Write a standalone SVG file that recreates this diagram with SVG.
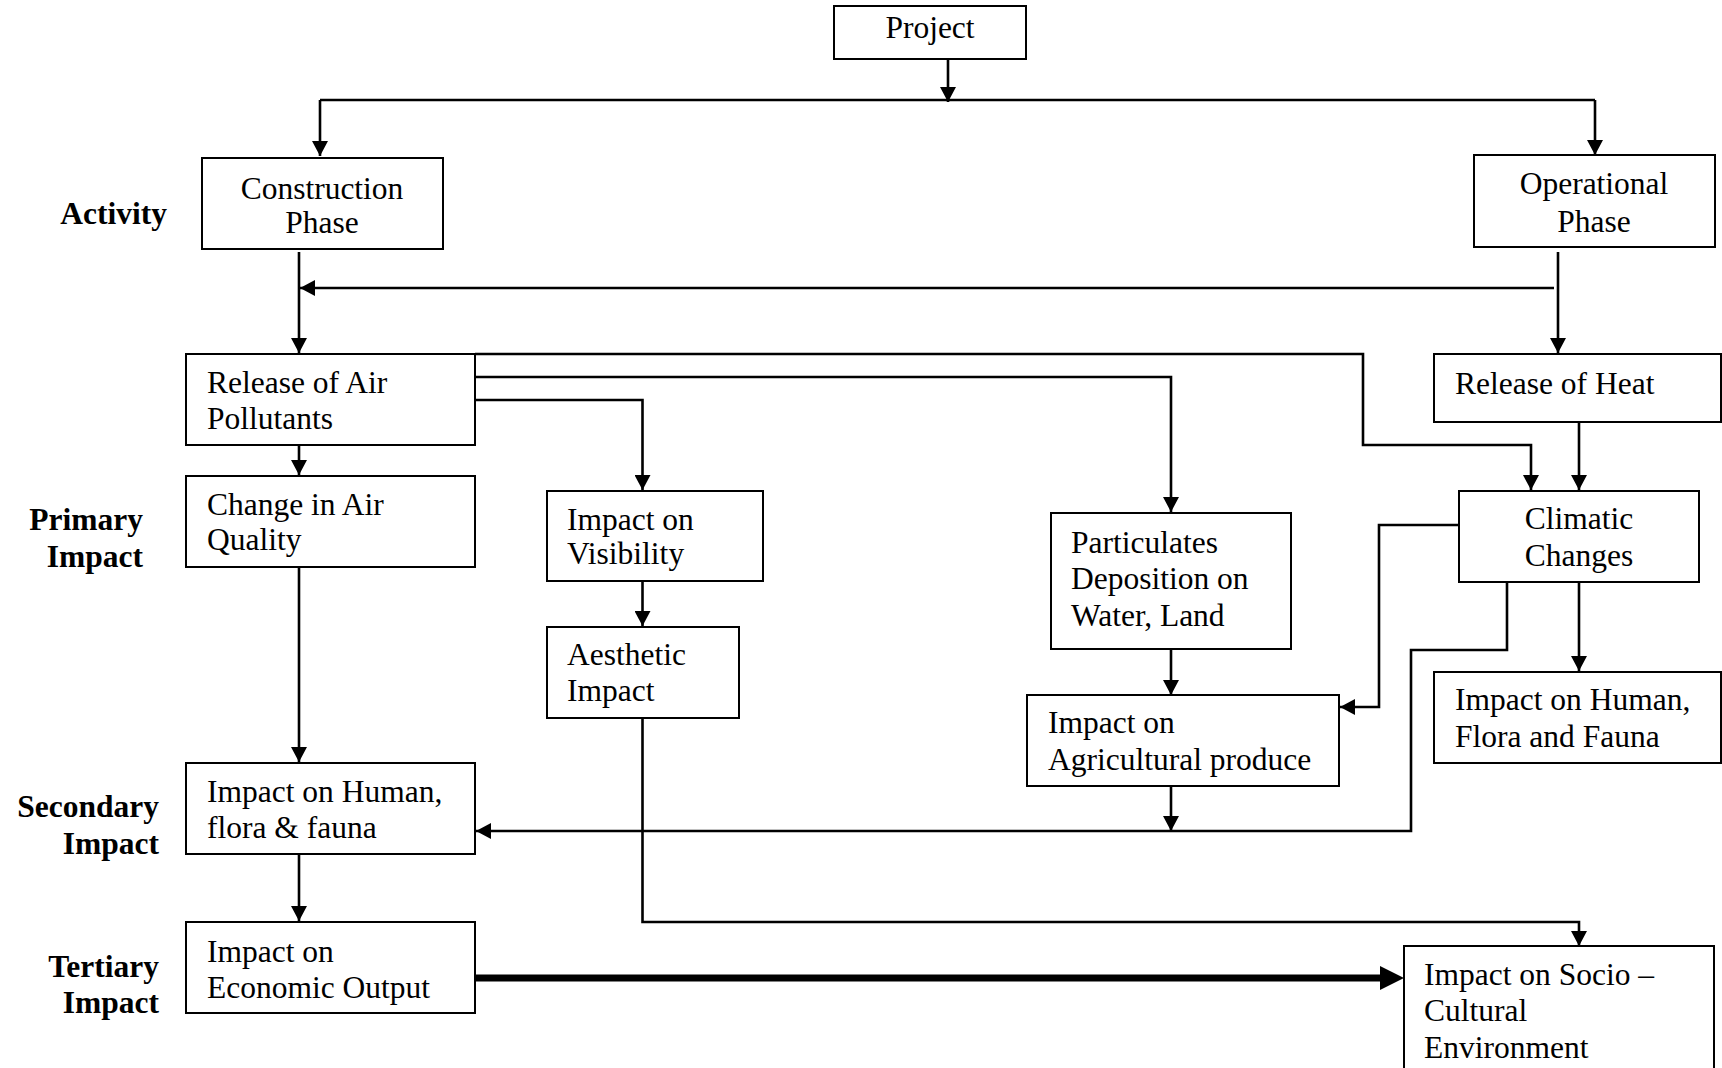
<svg xmlns="http://www.w3.org/2000/svg" width="1722" height="1068" viewBox="0 0 1722 1068">
<defs>
<style>
.box{fill:#fff;stroke:#000;stroke-width:2}
.t{font-family:"Liberation Serif","Times New Roman",serif;font-size:31.5px;fill:#000}
.c{text-anchor:middle}
.lbl{font-family:"Liberation Serif","Times New Roman",serif;font-size:31.5px;font-weight:bold;fill:#000;text-anchor:end}
.ln{fill:none;stroke:#000;stroke-width:2.6}
.ar{marker-end:url(#ah)}
</style>
<marker id="ah" markerUnits="userSpaceOnUse" markerWidth="16" markerHeight="16" refX="15" refY="8" orient="auto">
<path d="M0,0 L15,8 L0,16 z" fill="#000"/>
</marker>
</defs>
<rect width="1722" height="1068" fill="#fff"/>

<g id="labels">
<text class="lbl" x="167" y="224">Activity</text>
<text class="lbl" x="143" y="530">Primary</text>
<text class="lbl" x="143" y="567">Impact</text>
<text class="lbl" x="159" y="817">Secondary</text>
<text class="lbl" x="159" y="854">Impact</text>
<text class="lbl" x="159" y="977">Tertiary</text>
<text class="lbl" x="159" y="1013">Impact</text>
</g>

<g id="connectors">
<path class="ln ar" d="M948,59 V102"/>
<path class="ln" d="M320,100 H1595"/>
<path class="ln ar" d="M320,100 V156"/>
<path class="ln ar" d="M1595,100 V155"/>
<path class="ln ar" d="M299,252 V353"/>
<path class="ln ar" d="M1554,288 H300"/>
<path class="ln ar" d="M1558,252 V353"/>
<path class="ln ar" d="M299,445 V475"/>
<path class="ln ar" d="M475,354 H1363 V445 H1531 V490"/>
<path class="ln ar" d="M475,377 H1171 V512"/>
<path class="ln ar" d="M475,400 H642.5 V490"/>
<path class="ln ar" d="M642.5,582 V626"/>
<path class="ln ar" d="M642.5,717 V922 H1579 V946"/>
<path class="ln ar" d="M299,567 V762"/>
<path class="ln ar" d="M299,854 V921"/>
<path class="ln ar" d="M1171,649 V695"/>
<path class="ln ar" d="M1171,786 V831"/>
<path class="ln ar" d="M1579,422 V490"/>
<path class="ln ar" d="M1579,582 V671"/>
<path class="ln ar" d="M1459,525 H1379 V707 H1340"/>
<path class="ln ar" d="M1507,582 V650 H1411 V831 H476"/>
<path d="M475,978 H1382" fill="none" stroke="#000" stroke-width="7"/>
<path d="M1380,966 L1404,978 L1380,990 z" fill="#000"/>
</g>

<g id="project">
<rect class="box" x="834" y="6" width="192" height="53"/>
<text class="t c" x="930" y="38">Project</text>
</g>
<g id="construction">
<rect class="box" x="202" y="158" width="241" height="91"/>
<text class="t c" x="322" y="199">Construction</text>
<text class="t c" x="322" y="233">Phase</text>
</g>
<g id="operational">
<rect class="box" x="1474" y="155" width="241" height="92"/>
<text class="t c" x="1594" y="194">Operational</text>
<text class="t c" x="1594" y="232">Phase</text>
</g>
<g id="release-air">
<rect class="box" x="186" y="354" width="289" height="91"/>
<text class="t" x="207" y="393">Release of Air</text>
<text class="t" x="207" y="429">Pollutants</text>
</g>
<g id="release-heat">
<rect class="box" x="1434" y="354" width="287" height="68"/>
<text class="t" x="1455" y="394">Release of Heat</text>
</g>
<g id="change-air">
<rect class="box" x="186" y="476" width="289" height="91"/>
<text class="t" x="207" y="515">Change in Air</text>
<text class="t" x="207" y="550">Quality</text>
</g>
<g id="visibility">
<rect class="box" x="547" y="491" width="216" height="90"/>
<text class="t" x="567" y="530">Impact on</text>
<text class="t" x="567" y="564">Visibility</text>
</g>
<g id="aesthetic">
<rect class="box" x="547" y="627" width="192" height="91"/>
<text class="t" x="567" y="665">Aesthetic</text>
<text class="t" x="567" y="701">Impact</text>
</g>
<g id="particulates">
<rect class="box" x="1051" y="513" width="240" height="136"/>
<text class="t" x="1071" y="553">Particulates</text>
<text class="t" x="1071" y="589">Deposition on</text>
<text class="t" x="1071" y="626">Water, Land</text>
</g>
<g id="climatic">
<rect class="box" x="1459" y="491" width="240" height="91"/>
<text class="t c" x="1579" y="529">Climatic</text>
<text class="t c" x="1579" y="566">Changes</text>
</g>
<g id="agricultural">
<rect class="box" x="1027" y="695" width="312" height="91"/>
<text class="t" x="1048" y="733">Impact on</text>
<text class="t" x="1048" y="770">Agricultural produce</text>
</g>
<g id="human-flora-fauna-op">
<rect class="box" x="1434" y="672" width="287" height="91"/>
<text class="t" x="1455" y="710">Impact on Human,</text>
<text class="t" x="1455" y="747">Flora and Fauna</text>
</g>
<g id="secondary">
<rect class="box" x="186" y="763" width="289" height="91"/>
<text class="t" x="207" y="802">Impact on Human,</text>
<text class="t" x="207" y="838">flora &amp; fauna</text>
</g>
<g id="economic">
<rect class="box" x="186" y="922" width="289" height="91"/>
<text class="t" x="207" y="962">Impact on</text>
<text class="t" x="207" y="998">Economic Output</text>
</g>
<g id="socio">
<rect class="box" x="1404" y="946" width="310" height="130"/>
<text class="t" x="1424" y="985">Impact on Socio –</text>
<text class="t" x="1424" y="1021">Cultural</text>
<text class="t" x="1424" y="1058">Environment</text>
</g>
</svg>
